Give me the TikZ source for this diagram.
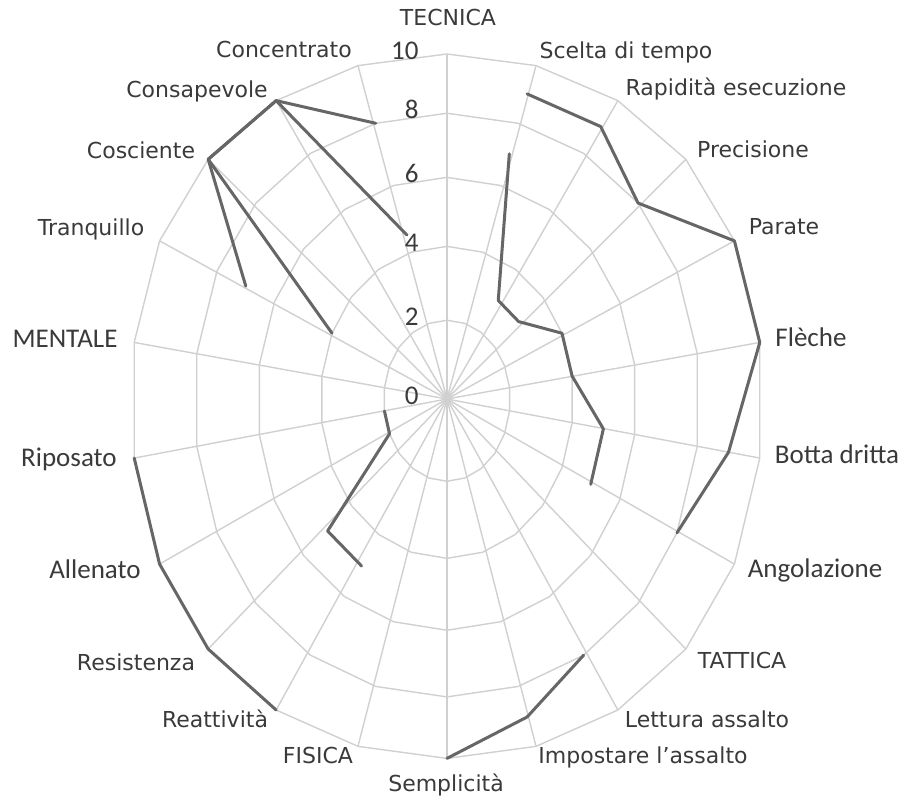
\documentclass[tikz,border=0pt]{standalone}
\usepackage{fontspec}
\setmainfont{DejaVu Sans}
\newfontfamily\calib{Carlito}
\definecolor{Grid}{HTML}{D0D0D0}
\definecolor{Trace}{HTML}{666666}
\definecolor{Ink}{HTML}{3A3A3A}

\newcommand\trace[2]{\draw[series] ({px(#1)},{py(#1)})
  foreach \k/\v in {#2} {-- ({px(\k,\v)},{py(\k,\v)})};}

\begin{document}
\begin{tikzpicture}[x=0.5pt,y=0.5pt,
    declare function={
      gt(\t)=406*\t-61*\t*\t;
      gb(\t)=424.4*\t-65*\t*\t;
      cy(\ax,\val)=\val/10*sin(90-\ax*360/22);
      px(\ax,\val)=31.6*\val*cos(90-\ax*360/22);
      py(\ax,\val)=ifthenelse(cy(\ax,\val)>=0,gt(cy(\ax,\val)),-gb(-cy(\ax,\val)));
    },
    grid/.style={draw=Grid,line width=0.7pt},
    series/.style={draw=Trace,line width=1.5pt,line join=round,line cap=round},
    lab/.style={text=Ink,inner sep=0pt,anchor=mid,font=\fontsize{11}{13}\selectfont},
    big/.style={text=Ink,inner sep=0pt,anchor=mid,font=\calib\fontsize{13.5}{16}\selectfont}
  ]
  \useasboundingbox (-447,-402) rectangle (457,399);
  \coordinate (c) at (0,0);
  \foreach \k in {0,...,21}
    \coordinate (ax\k) at ({px(\k,10)},{py(\k,10)});
  \foreach \r in {2,4,...,10}
    \draw[grid] ({px(0,\r)},{py(0,\r)})
      foreach \k in {1,...,21} {-- ({px(\k,\r)},{py(\k,\r)})} -- cycle;
  \foreach \k in {0,...,21}
    \draw[grid] (c) -- (ax\k);

  \trace{1,9}{2/9,3/8,4/10,5/10,6/9,7/8}
  \trace{9,8}{10/9,11/10}
  \trace{13,10}{14/10,15/10,16/10}
  \trace{18,7}{19/10,20/10,21/8}
  \trace{1,7}{2/3,3/3,4/4,5/4,6/5,7/5}
  \trace{16,2}{15/2,14/5,13/5}
  \trace{18,4}{19/10,20/10,21/4.5}

  \foreach \v in {0,2,...,10}
    \node[big,anchor=mid east] (n\v) at ({-28},{py(0,\v)}) {\v};

  \node[lab] (tecnica) at (1,379) {TECNICA};
  \node[lab] (scelta) at (179,346) {Scelta di tempo};
  \node[lab] (rapidita) at (289,309) {Rapidità esecuzione};
  \node[lab] (precisione) at (306,247) {Precisione};
  \node[lab] (parate) at (337,170) {Parate};
  \node[big] (fleche) at (364,58) {Flèche};
  \node[big] (botta) at (390,-59) {Botta dritta};
  \node[big] (angolazione) at (368,-173) {Angolazione};
  \node[lab] (tattica) at (295,-264) {TATTICA};
  \node[lab] (lettura) at (260,-323) {Lettura assalto};
  \node[lab] (impostare) at (196,-359) {Impostare l'assalto};
  \node[lab] (semplicita) at (-1,-387) {Semplicità};
  \node[lab] (fisica) at (-129,-359) {FISICA};
  \node[lab] (reattivita) at (-232,-323) {Reattività};
  \node[lab] (resistenza) at (-311,-266) {Resistenza};
  \node[big] (allenato) at (-352,-174) {Allenato};
  \node[big] (riposato) at (-378,-62) {Riposato};
  \node[big] (mentale) at (-382,57) {MENTALE};
  \node[lab] (tranquillo) at (-356,169) {Tranquillo};
  \node[lab] (cosciente) at (-306,246) {Cosciente};
  \node[lab] (consapevole) at (-250,307) {Consapevole};
  \node[lab] (concentrato) at (-163,347) {Concentrato};
\end{tikzpicture}
\end{document}
